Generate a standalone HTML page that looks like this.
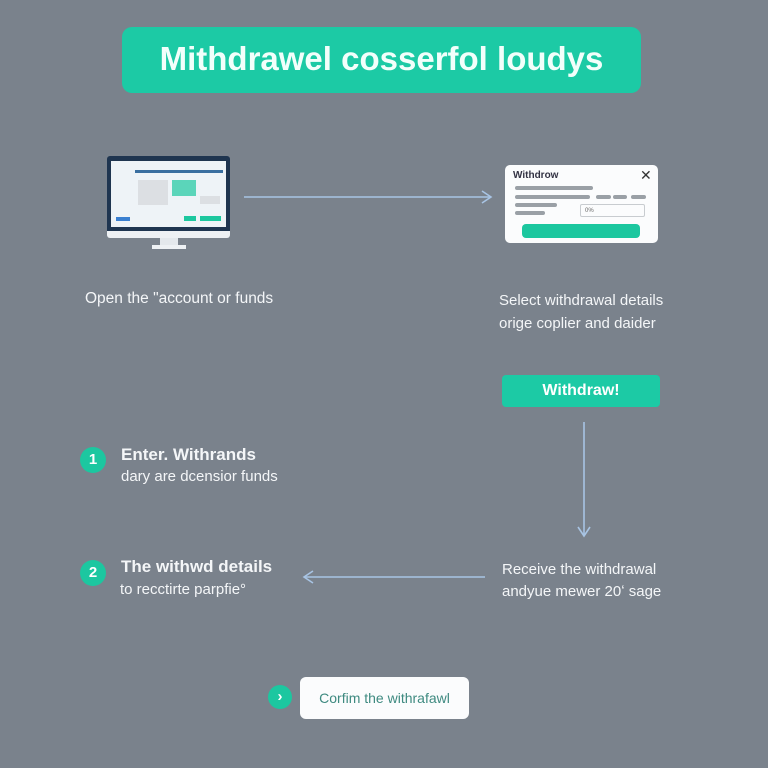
<!DOCTYPE html>
<html><head><style>
body{margin:0;width:768px;height:768px;background:#7a828c;font-family:"Liberation Sans",sans-serif;position:relative;overflow:hidden}
.a{position:absolute}
.t{color:#f4f6f8;font-size:15px;white-space:nowrap}
.bar{position:absolute;background:#9aa0a6;height:4px;border-radius:2px}
.circ{position:absolute;width:26px;height:26px;border-radius:50%;background:#1cc7a0;color:#fff;font-weight:bold;font-size:15px;text-align:center;line-height:26px}
</style></head><body>
<div class="a" style="left:122px;top:27px;width:519px;height:66px;background:#1ccaa5;border-radius:10px;color:#f2fffb;font-weight:bold;font-size:33px;text-align:center;line-height:64px">Mithdrawel cosserfol loudys</div>

<!-- monitor -->
<div class="a" style="left:107px;top:156px;width:123px;height:78px;background:#1f3550;border-radius:3px"></div>
<div class="a" style="left:111px;top:161px;width:115px;height:66px;background:#eef3f7"></div>
<div class="a" style="left:135px;top:170px;width:88px;height:3px;background:#3a6fa0"></div>
<div class="a" style="left:138px;top:180px;width:30px;height:25px;background:#dcdfe3"></div>
<div class="a" style="left:172px;top:180px;width:24px;height:16px;background:#1cc79f;opacity:.7"></div>
<div class="a" style="left:200px;top:196px;width:20px;height:8px;background:#dcdfe3"></div>
<div class="a" style="left:116px;top:217px;width:14px;height:4px;background:#3a7fd0"></div>
<div class="a" style="left:184px;top:216px;width:12px;height:5px;background:#1cc79f"></div>
<div class="a" style="left:200px;top:216px;width:21px;height:5px;background:#1cc79f"></div>
<div class="a" style="left:107px;top:231px;width:123px;height:7px;background:#eef1f4;border-radius:0 0 3px 3px"></div>
<div class="a" style="left:160px;top:238px;width:18px;height:8px;background:#e4e8ec"></div>
<div class="a" style="left:152px;top:245px;width:34px;height:4px;background:#eef1f4"></div>

<svg class="a" style="left:0;top:0" width="768" height="768">
<g stroke="#a8c4e4" stroke-width="1.6" fill="none">
<line x1="244" y1="197" x2="490" y2="197"/><polyline points="482,191 491,197 482,203"/>
<line x1="584" y1="422" x2="584" y2="535"/><polyline points="578,527 584,536 590,527"/>
<line x1="485" y1="577" x2="305" y2="577"/><polyline points="313,571 304,577 313,583"/>
</g></svg>

<!-- dialog -->
<div class="a" style="left:505px;top:165px;width:153px;height:78px;background:#fbfcfd;border-radius:5px"></div>
<div class="a" style="left:513px;top:170px;font-size:10px;font-weight:bold;color:#334">Withdrow</div>
<div class="a" style="left:640px;top:167px;font-size:14px;color:#333">✕</div>
<div class="bar" style="left:515px;top:186px;width:78px"></div>
<div class="bar" style="left:515px;top:195px;width:75px"></div>
<div class="bar" style="left:596px;top:195px;width:15px"></div>
<div class="bar" style="left:613px;top:195px;width:14px"></div>
<div class="bar" style="left:631px;top:195px;width:15px"></div>
<div class="bar" style="left:515px;top:203px;width:42px"></div>
<div class="bar" style="left:515px;top:211px;width:30px"></div>
<div class="a" style="left:580px;top:204px;width:65px;height:13px;border:1px solid #c8ccd0;border-radius:2px;font-size:6px;color:#666;line-height:13px;padding-left:4px;box-sizing:border-box">0%</div>
<div class="a" style="left:522px;top:224px;width:118px;height:14px;background:#1cc79f;border-radius:4px"></div>

<div class="a t" style="left:85px;top:290px;font-size:15.5px">Open the "account or funds</div>
<div class="a t" style="left:499px;top:292px">Select withdrawal details</div>
<div class="a t" style="left:499px;top:315px">orige coplier and daider</div>

<div class="a" style="left:502px;top:375px;width:158px;height:32px;background:#1ccaa5;border-radius:4px;color:#fff;font-weight:bold;font-size:16px;text-align:center;line-height:32px">Withdraw!</div>

<div class="circ" style="left:80px;top:447px">1</div>
<div class="a t" style="left:121px;top:445px;font-size:17px;font-weight:bold">Enter. Withrands</div>
<div class="a t" style="left:121px;top:468px">dary are dcensior funds</div>

<div class="circ" style="left:80px;top:560px">2</div>
<div class="a t" style="left:121px;top:557px;font-size:17px;font-weight:bold">The withwd details</div>
<div class="a t" style="left:120px;top:581px">to recctirte parpfie°</div>

<div class="a t" style="left:502px;top:561px">Receive the withdrawal</div>
<div class="a t" style="left:502px;top:583px">andyue mewer 20ʻ sage</div>

<div class="circ" style="left:268px;top:685px;width:24px;height:24px;line-height:24px">›</div>
<div class="a" style="left:300px;top:677px;width:169px;height:42px;background:#fbfcfd;border-radius:6px;color:#3e8a80;font-size:14px;text-align:center;line-height:42px">Corfim the withrafawl</div>
</body></html>
